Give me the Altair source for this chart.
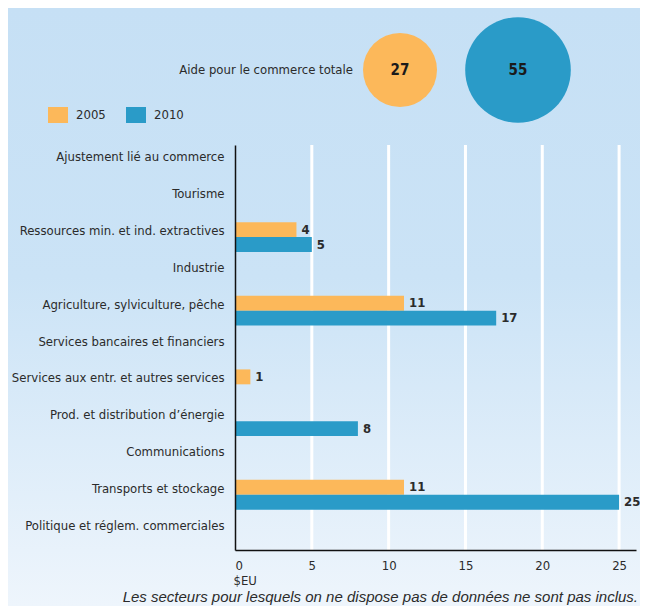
import altair as alt
import pandas as pd

categories = [
    "Ajustement lié au commerce",
    "Tourisme",
    "Ressources min. et ind. extractives",
    "Industrie",
    "Agriculture, sylviculture, pêche",
    "Services bancaires et financiers",
    "Services aux entr. et autres services",
    "Prod. et distribution d’énergie",
    "Communications",
    "Transports et stockage",
    "Politique et réglem. commerciales",
]
values_2005 = [0, 0, 4, 0, 11, 0, 1, 0, 0, 11, 0]
values_2010 = [0, 0, 5, 0, 17, 0, 0, 8, 0, 25, 0]
years = ["2005", "2010"]
totals = [27, 55]
x_ticks = [0, 5, 10, 15, 20, 25]
grid_ticks = [5, 10, 15, 20, 25]
total_label = "Aide pour le commerce totale"
footnote = "Les secteurs pour lesquels on ne dispose pas de données ne sont pas inclus."
x_title = "$EU"

ORANGE = "#fcb85a"
BLUE = "#2a9bc8"
FONT = "DejaVu Sans Condensed"
TEXT = "#2b2b2b"

rows = []
for c, a, b in zip(categories, values_2005, values_2010):
    if a > 0:
        rows.append({"cat": c, "year": "2005", "value": a})
    if b > 0:
        rows.append({"cat": c, "year": "2010", "value": b})
bars_df = pd.DataFrame(rows)
bub_df = pd.DataFrame({"year": years, "total": totals})
grid_df = pd.DataFrame({"t": grid_ticks})

W, H = 401, 405
PL, PT, PR, PB = 227, 137, 4, 56

xscale = alt.Scale(domain=[0, 26.1], nice=False, zero=True)
yscale = alt.Scale(domain=categories, paddingInner=0.19, paddingOuter=0.095)
cscale = alt.Scale(domain=years, range=[ORANGE, BLUE])
yoff = alt.YOffset("year:N", scale=alt.Scale(domain=years, paddingInner=0, paddingOuter=0))

xaxis = alt.Axis(
    values=x_ticks, grid=False, ticks=False, domainColor="#111", domainWidth=1.5,
    labelFont=FONT, labelFontSize=13, labelColor=TEXT, labelPadding=9,
    title=x_title, titleFont=FONT, titleFontSize=13, titleFontWeight="normal",
    titleColor=TEXT, titleAnchor="start", titleAlign="left", titleX=-2, titleY=30,
    titleBaseline="middle", zindex=1,
)
yaxis = alt.Axis(
    title=None, ticks=False, domainColor="#111", domainWidth=1.5,
    labelFont=FONT, labelFontSize=13, labelColor=TEXT, labelPadding=11,
    labelOffset=-6, labelLimit=0, zindex=1,
)

grad = alt.LinearGradient(
    gradient="linear",
    stops=[
        alt.GradientStop(color="#c6e0f5", offset=0),
        alt.GradientStop(color="#cbe3f6", offset=0.45),
        alt.GradientStop(color="#eef5fc", offset=1),
    ],
    x1=0, x2=0, y1=0, y2=1,
)
bg = alt.Chart(pd.DataFrame({"a": [0]})).mark_rect(fill=grad).encode(
    x=alt.value(-PL), x2=alt.value(W + PR), y=alt.value(-PT), y2=alt.value(H + PB)
)

grid = alt.Chart(grid_df).mark_rule(color="white", strokeWidth=3).encode(
    x=alt.X("t:Q", scale=xscale, axis=xaxis),
    y=alt.value(0),
    y2=alt.value(H),
)

bars = alt.Chart(bars_df).mark_bar().encode(
    x=alt.X("value:Q", scale=xscale, axis=xaxis),
    y=alt.Y("cat:N", scale=yscale, sort=categories, axis=yaxis),
    yOffset=yoff,
    color=alt.Color(
        "year:N",
        scale=cscale,
        legend=alt.Legend(
            title=None, orient="none", legendX=-187, legendY=-40, direction="horizontal",
            symbolType="M-1,-0.8L1,-0.8L1,0.8L-1,0.8Z", symbolSize=400,
            symbolStrokeWidth=0, symbolOpacity=1, labelFont=FONT, labelFontSize=13,
            labelColor=TEXT, labelOffset=8, columnPadding=20, padding=0,
        ),
    ),
)

vlabels = alt.Chart(bars_df).mark_text(
    align="left", baseline="middle", dx=5, font=FONT, fontSize=13, fontWeight="bold", color=TEXT
).encode(
    x=alt.X("value:Q", scale=xscale, axis=xaxis),
    y=alt.Y("cat:N", scale=yscale, sort=categories, axis=yaxis),
    yOffset=yoff,
    text=alt.Text("value:Q"),
)

main = alt.layer(grid, bars, vlabels)

bx = alt.X("year:N", scale=alt.Scale(domain=years, range=[165, 283], padding=0), axis=None)
bubbles = alt.Chart(bub_df).mark_circle(opacity=1, strokeWidth=0).encode(
    x=bx,
    y=alt.value(-75),
    size=alt.Size("total:Q", scale=alt.Scale(domain=[0, 55], range=[0, 11155]), legend=None),
    color=alt.Color("year:N", scale=cscale),
)
btext = alt.Chart(bub_df).mark_text(
    baseline="middle", align="center", font=FONT, fontSize=15, fontWeight="bold", color="#1a1a1a"
).encode(x=bx, y=alt.value(-75), text=alt.Text("total:Q"))
bub_layer = alt.layer(bubbles, btext)

aide = alt.Chart(pd.DataFrame({"t": [total_label]})).mark_text(
    align="right", baseline="middle", font=FONT, fontSize=13, color=TEXT
).encode(x=alt.value(118), y=alt.value(-75), text="t:N")

foot = alt.Chart(pd.DataFrame({"t": [footnote]})).mark_text(
    align="right", baseline="alphabetic", font="Liberation Sans", fontSize=15, fontStyle="italic", color=TEXT
).encode(x=alt.value(W + 2), y=alt.value(457), text="t:N")

chart = alt.layer(bg, main, bub_layer, aide, foot).resolve_scale(x="independent").properties(
    width=W,
    height=H,
    autosize=alt.AutoSizeParams(type="none"),
    padding={"left": PL, "top": PT, "right": PR, "bottom": PB},
    background="#c6e0f5",
).configure_view(stroke=None)

chart.save("out.html", embed_options={"renderer": "svg", "actions": False})
